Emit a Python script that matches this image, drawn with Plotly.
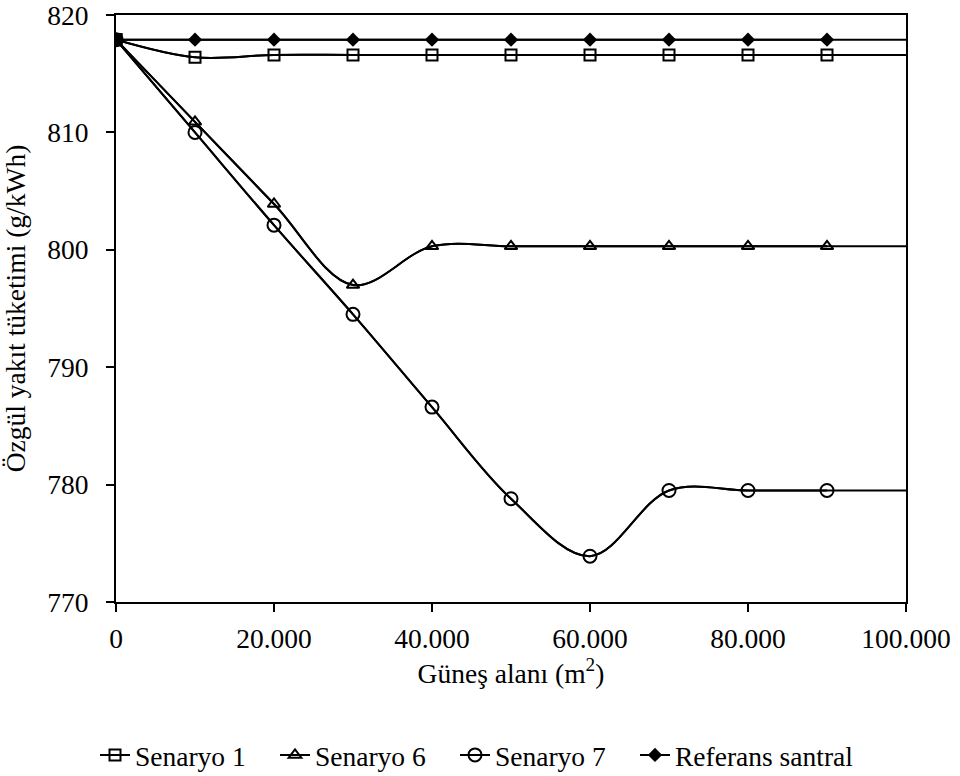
import plotly.graph_objects as go

# ---- data ----
gunes_alani = [0, 10000, 20000, 30000, 40000, 50000, 60000, 70000, 80000, 90000, 100000]
senaryo_1 = [817.9, 816.4, 816.6, 816.6, 816.6, 816.6, 816.6, 816.6, 816.6, 816.6, 816.6]
senaryo_6 = [817.9, 810.9, 803.9, 797.0, 800.3, 800.3, 800.3, 800.3, 800.3, 800.3, 800.3]
senaryo_7 = [817.9, 810.0, 802.1, 794.5, 786.6, 778.8, 773.9, 779.5, 779.5, 779.5, 779.5]
referans = [817.9, 817.9, 817.9, 817.9, 817.9, 817.9, 817.9, 817.9, 817.9, 817.9, 817.9]
series_names = ["Senaryo 1", "Senaryo 6", "Senaryo 7", "Referans santral"]
x_tickvals = [0, 20000, 40000, 60000, 80000, 100000]
x_ticktext = ["0", "20.000", "40.000", "60.000", "80.000", "100.000"]
y_tickvals = [770, 780, 790, 800, 810, 820]

FONT = "Liberation Serif"
FS = 27.5

styles = [
    dict(symbol="square-open", size=11, line=dict(width=2, color="black"), color="black"),
    dict(symbol="triangle-up-open", size=11, line=dict(width=2, color="black"), color="black"),
    dict(symbol="circle-open", size=13, line=dict(width=2, color="black"), color="black"),
    dict(symbol="diamond", size=11, line=dict(width=0, color="black"), color="black"),
]
legend_widths = [135, 135, 135, 185]

fig = go.Figure()
all_series = [senaryo_1, senaryo_6, senaryo_7, referans]

# full smoothed lines (extend to the axis end, no markers)
for name, ys in zip(series_names, all_series):
    fig.add_trace(go.Scatter(
        x=gunes_alani, y=ys, mode="lines", legendgroup=name, showlegend=False,
        line=dict(color="black", width=2, shape="spline", smoothing=1),
        hoverinfo="skip",
    ))

# lines + markers for the measured points (markers up to 90.000)
for name, ys, st, lw in zip(series_names, all_series, styles, legend_widths):
    fig.add_trace(go.Scatter(
        x=gunes_alani[:-1], y=ys[:-1], mode="lines+markers", name=name, legendgroup=name,
        line=dict(color="black", width=2, shape="spline", smoothing=1),
        marker=st, legendwidth=lw,
    ))

# origin point appears as a filled square
fig.add_trace(go.Scatter(
    x=gunes_alani[:1], y=senaryo_1[:1], mode="markers", showlegend=False,
    marker=dict(symbol="square", size=13, color="black"),
))

axis_common = dict(
    showline=True, linecolor="black", linewidth=2, mirror=True,
    ticks="outside", ticklen=8, tickwidth=2, tickcolor="black",
    showgrid=False, zeroline=False, automargin=False,
    ticklabeloverflow="allow",
    tickfont=dict(family=FONT, size=FS, color="black"),
)

fig.update_layout(
    width=960, height=776,
    margin=dict(l=116, r=54, t=15, b=174),
    paper_bgcolor="white", plot_bgcolor="white",
    font=dict(family=FONT, size=FS, color="black"),
    xaxis=dict(
        range=[0, 100000], tickvals=x_tickvals, ticktext=x_ticktext,
        title=dict(text="Güneş alanı (m<sup>2</sup>)", font=dict(family=FONT, size=FS), standoff=0),
        ticklabelstandoff=3,
        **axis_common,
    ),
    yaxis=dict(
        range=[770, 820], tickvals=y_tickvals,
        title=dict(text="Özgül yakıt tüketimi (g/kWh)", font=dict(family=FONT, size=FS), standoff=14),
        ticklabelstandoff=12,
        **axis_common,
    ),
    legend=dict(
        orientation="h", xref="container", yref="container",
        x=95 / 960, xanchor="left", y=1 - 755 / 776, yanchor="middle",
        font=dict(family=FONT, size=FS, color="black"),
        bgcolor="rgba(0,0,0,0)", itemwidth=30, entrywidthmode="pixels",
    ),
    showlegend=True,
)

fig.write_html("out.html")
